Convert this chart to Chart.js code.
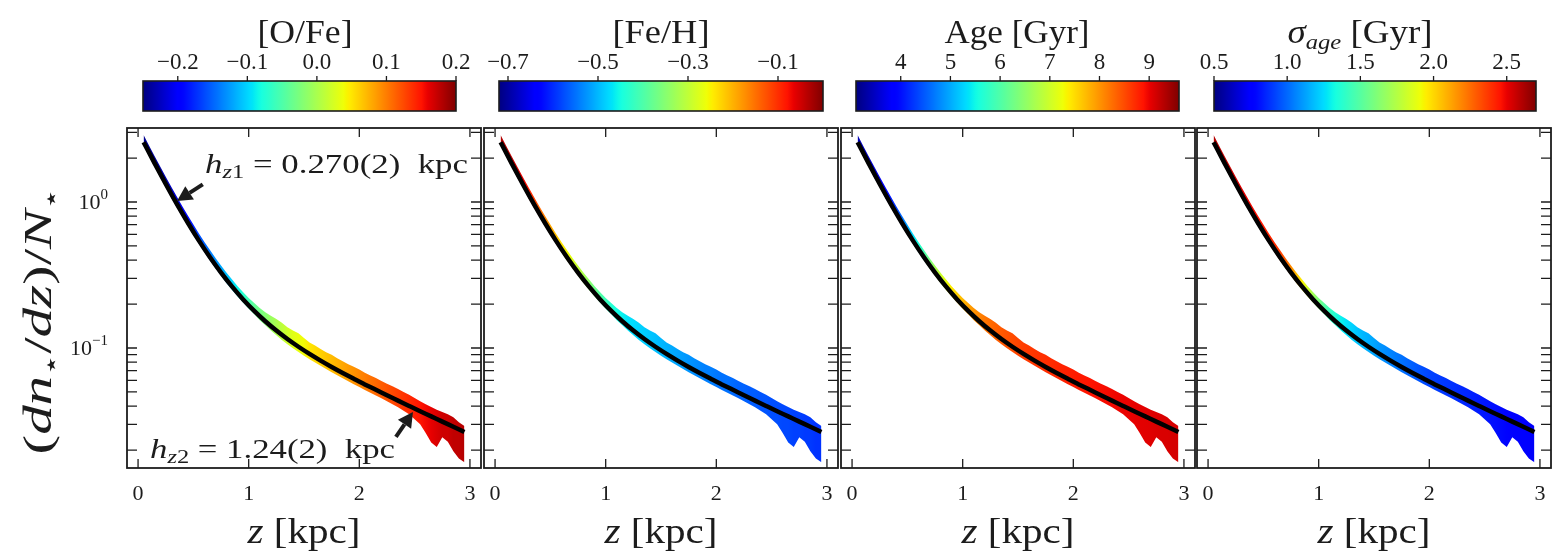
<!DOCTYPE html>
<html>
<head>
<meta charset="utf-8">
<script src="https://cdn.jsdelivr.net/npm/chart.js@4.4.1/dist/chart.umd.min.js"></script>
<style>
  html, body { margin: 0; padding: 0; background: #fff; }
  #wrap { position: relative; width: 1558px; height: 556px; overflow: hidden; background: #fff; }
  #wrap canvas { position: absolute; left: 0; top: 0; }
</style>
</head>
<body>
<div id="wrap"></div>
<script>
// height bins (kpc)
const zBins = [0.05, 0.10, 0.15, 0.20, 0.25, 0.30, 0.35, 0.40, 0.45, 0.50,
               0.55, 0.60, 0.65, 0.70, 0.75, 0.80, 0.85, 0.90, 0.95, 1.00,
               1.05, 1.10, 1.15, 1.20, 1.25, 1.30, 1.35, 1.40, 1.45, 1.50,
               1.55, 1.60, 1.65, 1.70, 1.75, 1.80, 1.85, 1.90, 1.95, 2.00,
               2.05, 2.10, 2.15, 2.20, 2.25, 2.30, 2.35, 2.40, 2.45, 2.50,
               2.55, 2.60, 2.65, 2.70, 2.75, 2.80, 2.85, 2.90, 2.95];

// spread of the normalised density in each bin
const bandLow = [2.44, 2.06, 1.75, 1.48, 1.26, 1.07, 0.922, 0.793, 0.685, 0.594,
                 0.517, 0.452, 0.398, 0.352, 0.313, 0.278, 0.25, 0.225, 0.204, 0.186,
                 0.17, 0.155, 0.143, 0.132, 0.1225, 0.1135, 0.106, 0.0995, 0.094, 0.0885,
                 0.0838, 0.0795, 0.0755, 0.0718, 0.0683, 0.065, 0.062, 0.0592, 0.0565, 0.054,
                 0.0516, 0.0494, 0.0472, 0.0452, 0.0432, 0.0412, 0.0393, 0.0372, 0.0352, 0.0325,
                 0.0300, 0.0262, 0.0225, 0.0210, 0.0245, 0.0228, 0.0196, 0.0175, 0.0165];
const bandHigh = [2.88, 2.43, 2.06, 1.75, 1.49, 1.27, 1.09, 0.935, 0.807, 0.70,
                  0.609, 0.533, 0.469, 0.414, 0.368, 0.328, 0.295, 0.265, 0.241, 0.22,
                  0.203, 0.188, 0.176, 0.166, 0.158, 0.149, 0.139, 0.132, 0.126, 0.117,
                  0.109, 0.104, 0.0985, 0.0935, 0.090, 0.0852, 0.081, 0.0773, 0.0745, 0.0712,
                  0.0676, 0.0648, 0.0622, 0.0594, 0.0569, 0.0548, 0.0523, 0.050, 0.0478, 0.0455,
                  0.0432, 0.0412, 0.0395, 0.0378, 0.0365, 0.0352, 0.0335, 0.031, 0.0292];

// mean property of the stars in each bin, one array per panel
const ofeBins = [-0.245, -0.24, -0.24, -0.235, -0.23, -0.225, -0.215, -0.205, -0.19, -0.18,
                 -0.16, -0.15, -0.14, -0.13, -0.12, -0.11, -0.10, -0.085, -0.07, -0.055,
                 -0.04, -0.03, -0.02, -0.01, 0.0, 0.01, 0.02, 0.03, 0.035, 0.04,
                 0.05, 0.055, 0.06, 0.065, 0.07, 0.075, 0.08, 0.085, 0.09, 0.095,
                 0.10, 0.105, 0.11, 0.115, 0.12, 0.125, 0.13, 0.135, 0.14, 0.145,
                 0.15, 0.155, 0.16, 0.165, 0.17, 0.17, 0.175, 0.175, 0.18];
const fehBins = [-0.03, -0.035, -0.04, -0.05, -0.065, -0.085, -0.11, -0.14, -0.165, -0.19,
                 -0.21, -0.235, -0.255, -0.275, -0.30, -0.32, -0.345, -0.37, -0.395, -0.415,
                 -0.435, -0.45, -0.46, -0.47, -0.475, -0.48, -0.485, -0.49, -0.495, -0.50,
                 -0.505, -0.51, -0.515, -0.52, -0.525, -0.53, -0.535, -0.54, -0.54, -0.545,
                 -0.55, -0.55, -0.555, -0.56, -0.56, -0.565, -0.565, -0.57, -0.57, -0.575,
                 -0.575, -0.58, -0.58, -0.585, -0.585, -0.59, -0.59, -0.595, -0.595];
const ageBins = [3.4, 3.45, 3.5, 3.6, 3.7, 3.85, 4.05, 4.3, 4.6, 4.95,
                 5.3, 5.6, 5.95, 6.3, 6.65, 6.95, 7.2, 7.4, 7.6, 7.75,
                 7.9, 8.0, 8.1, 8.2, 8.28, 8.35, 8.4, 8.45, 8.5, 8.55,
                 8.6, 8.62, 8.65, 8.68, 8.7, 8.72, 8.75, 8.78, 8.8, 8.82,
                 8.84, 8.86, 8.88, 8.9, 8.92, 8.94, 8.96, 8.98, 9.0, 9.0,
                 9.02, 9.04, 9.05, 9.06, 9.08, 9.1, 9.1, 9.12, 9.12];
const sigBins = [2.6, 2.6, 2.58, 2.56, 2.54, 2.52, 2.5, 2.48, 2.46, 2.44,
                 2.42, 2.4, 2.36, 2.28, 2.18, 2.06, 1.94, 1.82, 1.7, 1.6,
                 1.5, 1.42, 1.36, 1.3, 1.26, 1.23, 1.2, 1.17, 1.15, 1.13,
                 1.1, 1.08, 1.06, 1.04, 1.02, 1.0, 0.98, 0.96, 0.94, 0.92,
                 0.91, 0.9, 0.89, 0.88, 0.87, 0.86, 0.85, 0.84, 0.83, 0.82,
                 0.81, 0.8, 0.79, 0.78, 0.77, 0.76, 0.75, 0.74, 0.73];

// double exponential fit
const zFit = [0.05, 0.15, 0.25, 0.35, 0.45, 0.55, 0.65, 0.75, 0.85, 0.95,
              1.05, 1.15, 1.25, 1.35, 1.45, 1.55, 1.65, 1.75, 1.85, 1.95,
              2.05, 2.15, 2.25, 2.35, 2.45, 2.55, 2.65, 2.75, 2.85, 2.95];
const fitLine = [2.569, 1.838, 1.328, 0.971, 0.721, 0.544, 0.4185, 0.3285, 0.2631, 0.2152,
                 0.1796, 0.1525, 0.1316, 0.1152, 0.1020, 0.0911, 0.0820, 0.0742, 0.0675, 0.0616,
                 0.0563, 0.0517, 0.0474, 0.0436, 0.0401, 0.0369, 0.0340, 0.0313, 0.0289, 0.0266];

// arrows in the first panel (z, density)
const arrowTailZ = [0.585, 2.331];
const arrowTailY = [1.32, 0.0246];
const arrowHeadZ = [0.352, 2.485];
const arrowHeadY = [1.016, 0.0365];

// axis ticks
const xTicks = [0, 1, 2, 3];
const xTickLabels = ['0', '1', '2', '3'];
const yMajor = [1, 0.1];
const yMajorExp = ['0', '\u22121'];
const yMinor = [3, 2, 0.9, 0.8, 0.7, 0.6, 0.5, 0.4, 0.3, 0.2,
                0.09, 0.08, 0.07, 0.06, 0.05, 0.04, 0.03, 0.02];

// colour bar ticks
const ofeTicks = [-0.2, -0.1, 0.0, 0.1, 0.2];
const ofeTickLabels = ['\u22120.2', '\u22120.1', '0.0', '0.1', '0.2'];
const fehTicks = [-0.7, -0.5, -0.3, -0.1];
const fehTickLabels = ['\u22120.7', '\u22120.5', '\u22120.3', '\u22120.1'];
const ageTicks = [4, 5, 6, 7, 8, 9];
const ageTickLabels = ['4', '5', '6', '7', '8', '9'];
const sigTicks = [0.5, 1.0, 1.5, 2.0, 2.5];
const sigTickLabels = ['0.5', '1.0', '1.5', '2.0', '2.5'];

// ---------------------------------------------------------------
const W = 1558, H = 556;
const SERIF = '"Liberation Serif", "DejaVu Serif", serif';
const INK = '#1c1c1c';

const panelLeft = [127, 484, 841, 1197];
const panelWidth = 354;
const plotTop = 128, plotBottom = 468;
const barLeft = [143, 499, 856, 1214];
const barRight = [456, 823, 1179, 1536];
const barTop = 81, barBottom = 111;
const titleCenter = [305, 661, 1017, 1360];

function R(t, size, style, dy) { return { t: t, font: (style || '') + ' ' + size + 'px ' + SERIF, dy: dy || 0 }; }

const colorbars = [
  { min: -0.25, max: 0.2, ticks: ofeTicks, labels: ofeTickLabels, values: ofeBins,
    title: [R('[O/Fe]', 33)], titleW: 95 },
  { min: -0.72, max: 0.0, ticks: fehTicks, labels: fehTickLabels, values: fehBins,
    title: [R('[Fe/H]', 33)], titleW: 97 },
  { min: 3.1, max: 9.6, ticks: ageTicks, labels: ageTickLabels, values: ageBins,
    title: [R('Age [Gyr]', 33)], titleW: 145 },
  { min: 0.5, max: 2.7, ticks: sigTicks, labels: sigTickLabels, values: sigBins,
    title: [R('\u03c3', 33, 'italic'), R('age', 22, 'italic', 6), R(' [Gyr]', 33)], titleW: 145 }
];

// matplotlib "jet"
const JET_R = [[0, 0], [0.35, 0], [0.66, 1], [0.89, 1], [1, 0.5]];
const JET_G = [[0, 0], [0.125, 0], [0.375, 1], [0.64, 1], [0.91, 0], [1, 0]];
const JET_B = [[0, 0.5], [0.11, 1], [0.34, 1], [0.65, 0], [1, 0]];
function seg(pts, t) {
  for (let i = 1; i < pts.length; i++) {
    if (t <= pts[i][0]) {
      const a = pts[i - 1], b = pts[i];
      return a[1] + (b[1] - a[1]) * (t - a[0]) / (b[0] - a[0]);
    }
  }
  return pts[pts.length - 1][1];
}
function jet(t) {
  t = Math.min(1, Math.max(0, t));
  return 'rgb(' + Math.round(255 * seg(JET_R, t)) + ',' + Math.round(255 * seg(JET_G, t)) + ',' + Math.round(255 * seg(JET_B, t)) + ')';
}

function drawRuns(ctx, runs, x, y, align, target, rot) {
  let w = 0;
  runs.forEach(r => { ctx.font = r.font; w += ctx.measureText(r.t).width; });
  const sx = target ? target / w : 1;
  ctx.save();
  ctx.translate(x, y);
  if (rot) ctx.rotate(rot);
  ctx.scale(sx, 1);
  ctx.textAlign = 'left';
  ctx.textBaseline = 'alphabetic';
  let cx = align === 'center' ? -w / 2 : align === 'right' ? -w : 0;
  runs.forEach(r => {
    ctx.font = r.font;
    ctx.fillText(r.t, cx, r.dy);
    cx += ctx.measureText(r.t).width;
  });
  ctx.restore();
}

function arrow(ctx, x0, y0, x1, y1) {
  const ang = Math.atan2(y1 - y0, x1 - x0), head = 15, half = 8;
  const bx = x1 - head * Math.cos(ang), by = y1 - head * Math.sin(ang);
  ctx.lineWidth = 4;
  ctx.beginPath(); ctx.moveTo(x0, y0); ctx.lineTo(bx, by); ctx.stroke();
  ctx.beginPath();
  ctx.moveTo(x1, y1);
  ctx.lineTo(bx + half * Math.sin(ang), by - half * Math.cos(ang));
  ctx.lineTo(bx - half * Math.sin(ang), by + half * Math.cos(ang));
  ctx.closePath(); ctx.fill();
}

function newCanvas() {
  const c = document.createElement('canvas');
  c.width = W; c.height = H;
  c.style.width = W + 'px'; c.style.height = H + 'px';
  document.getElementById('wrap').appendChild(c);
  return c;
}

// horizontal gradient following the bin colours, placed by the x scale
function bandFill(cb) {
  return function (context) {
    const chart = context.chart, a = chart.chartArea;
    if (!a) return 'rgba(0,0,0,0)';
    const x = chart.scales.x;
    const g = chart.ctx.createLinearGradient(a.left, 0, a.right, 0);
    zBins.forEach((z, k) => {
      const t = (x.getPixelForValue(z) - a.left) / (a.right - a.left);
      g.addColorStop(Math.min(1, Math.max(0, t)), jet((cb.values[k] - cb.min) / (cb.max - cb.min)));
    });
    return g;
  };
}

function panelDecor(i) {
  return {
    id: 'decor' + i,
    afterDatasetsDraw(chart) {
      const ctx = chart.ctx, a = chart.chartArea, x = chart.scales.x, y = chart.scales.y;
      ctx.save();
      ctx.strokeStyle = INK; ctx.fillStyle = INK;

      if (i === 0) {
        for (let k = 0; k < arrowTailZ.length; k++) {
          arrow(ctx, x.getPixelForValue(arrowTailZ[k]), y.getPixelForValue(arrowTailY[k]),
                x.getPixelForValue(arrowHeadZ[k]), y.getPixelForValue(arrowHeadY[k]));
        }
        drawRuns(ctx, [R('h', 27, 'italic'), R('z', 19, 'italic', 5), R('1', 19, '', 5),
                       R(' = 0.270(2)  kpc', 27)], 205, 173, 'left', 263);
        drawRuns(ctx, [R('h', 27, 'italic'), R('z', 19, 'italic', 5), R('2', 19, '', 5),
                       R(' = 1.24(2)  kpc', 27)], 150, 458, 'left', 245);
      }

      // inward ticks
      ctx.lineWidth = 1.3;
      ctx.beginPath();
      xTicks.forEach(v => {
        const px = x.getPixelForValue(v);
        ctx.moveTo(px, a.bottom); ctx.lineTo(px, a.bottom - 9);
        ctx.moveTo(px, a.top); ctx.lineTo(px, a.top + 9);
      });
      yMajor.concat(yMinor).forEach(v => {
        const py = y.getPixelForValue(v);
        ctx.moveTo(a.left, py); ctx.lineTo(a.left + 10, py);
        ctx.moveTo(a.right, py); ctx.lineTo(a.right - 10, py);
      });
      ctx.stroke();
      ctx.lineWidth = 1.8;
      ctx.strokeRect(a.left, a.top, a.right - a.left, a.bottom - a.top);

      xTicks.forEach((v, k) => drawRuns(ctx, [R(xTickLabels[k], 22)], x.getPixelForValue(v), 500, 'center'));
      drawRuns(ctx, [R('z', 36, 'italic'), R(' [kpc]', 36)], (a.left + a.right) / 2, 543, 'center', 113);

      if (i === 0) {
        yMajor.forEach((v, k) => {
          drawRuns(ctx, [R('10', 22), R(yMajorExp[k], 15, '', -10)], a.left - 19, y.getPixelForValue(v) + 7, 'right');
        });
        drawRuns(ctx, [R('(', 40), R('dn', 40, 'italic'), R('\u22c6', 24, '', 8), R('/', 40),
                       R('dz', 40, 'italic'), R(')/', 40), R('N', 40, 'italic'), R('\u22c6', 24, '', 8)],
                 51, 321, 'center', 267, -Math.PI / 2);
      }
      ctx.restore();
    }
  };
}

colorbars.forEach((cb, i) => {
  new Chart(newCanvas(), {
    type: 'line',
    data: {
      datasets: [
        {
          data: zFit.map((z, k) => ({ x: z, y: fitLine[k] })),
          borderColor: '#000',
          borderWidth: 4.5,
          pointRadius: 0,
          cubicInterpolationMode: 'monotone',
          fill: false,
          order: 1
        },
        {
          data: zBins.map((z, k) => ({ x: z, y: bandHigh[k] })),
          borderWidth: 0,
          pointRadius: 0,
          backgroundColor: bandFill(cb),
          fill: '+1',
          order: 2
        },
        {
          data: zBins.map((z, k) => ({ x: z, y: bandLow[k] })),
          borderWidth: 0,
          pointRadius: 0,
          fill: false,
          order: 3
        }
      ]
    },
    options: {
      responsive: false,
      animation: false,
      devicePixelRatio: 1,
      layout: { padding: { left: panelLeft[i], right: W - panelLeft[i] - panelWidth, top: plotTop, bottom: H - plotBottom } },
      plugins: { legend: { display: false }, tooltip: { enabled: false } },
      scales: {
        x: { type: 'linear', min: -0.1, max: 3.1, display: false },
        y: { type: 'logarithmic', min: 0.01507, max: 3.213, display: false }
      }
    },
    plugins: [panelDecor(i)]
  });

  // colour bar above the panel
  new Chart(newCanvas(), {
    type: 'scatter',
    data: { datasets: [] },
    options: {
      responsive: false,
      animation: false,
      devicePixelRatio: 1,
      layout: { padding: { left: barLeft[i], right: W - barRight[i], top: barTop, bottom: H - barBottom } },
      plugins: { legend: { display: false }, tooltip: { enabled: false } },
      scales: {
        x: { type: 'linear', min: cb.min, max: cb.max, display: false },
        y: { type: 'linear', min: 0, max: 1, display: false }
      }
    },
    plugins: [{
      id: 'cbar' + i,
      afterDraw(chart) {
        const ctx = chart.ctx, a = chart.chartArea, x = chart.scales.x;
        ctx.save();
        const g = ctx.createLinearGradient(a.left, 0, a.right, 0);
        for (let s = 0; s <= 100; s++) g.addColorStop(s / 100, jet(s / 100));
        ctx.fillStyle = g;
        ctx.fillRect(a.left, a.top, a.right - a.left, a.bottom - a.top);
        ctx.strokeStyle = INK; ctx.lineWidth = 1.6;
        ctx.strokeRect(a.left, a.top, a.right - a.left, a.bottom - a.top);
        ctx.lineWidth = 1.3;
        ctx.beginPath();
        cb.ticks.forEach(v => {
          const px = x.getPixelForValue(v);
          ctx.moveTo(px, a.top); ctx.lineTo(px, a.top - 5);
        });
        ctx.stroke();
        ctx.fillStyle = INK;
        cb.ticks.forEach((v, k) => drawRuns(ctx, [R(cb.labels[k], 23)], x.getPixelForValue(v), 69, 'center'));
        drawRuns(ctx, cb.title, titleCenter[i], 43, 'center', cb.titleW);
        ctx.restore();
      }
    }]
  });
});
</script>
</body>
</html>
